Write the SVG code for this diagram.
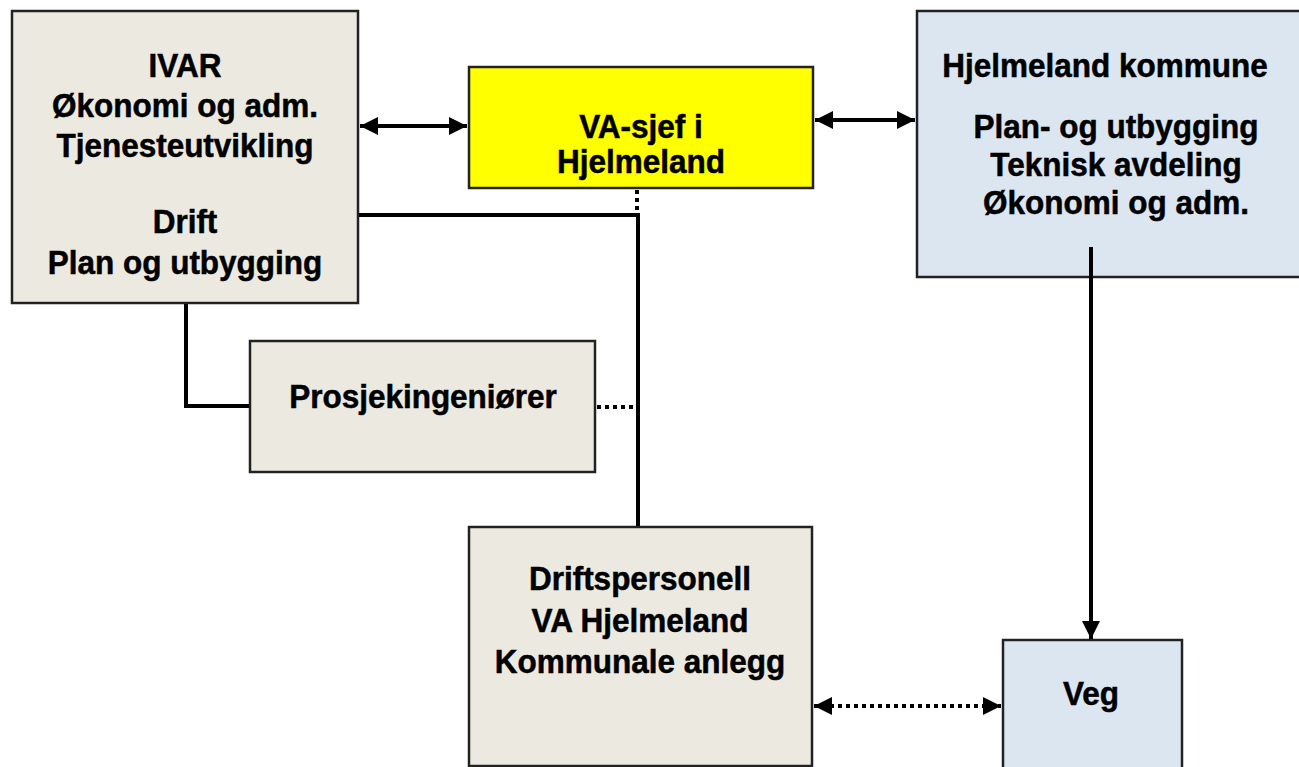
<svg xmlns="http://www.w3.org/2000/svg" width="1299" height="767" viewBox="0 0 1299 767">
<style>
.box{stroke:#222;stroke-width:2.5}
.beige{fill:#ECEAE0}
.blue{fill:#DCE6F1}
.yellow{fill:#FFFF00}
text{font-family:"Liberation Sans",Arial,sans-serif;font-weight:bold;font-size:31.5px;fill:#000;stroke:#000;stroke-width:0.5;text-anchor:middle}
.ln{stroke:#000;stroke-width:4;fill:none}
.dot{stroke:#000;stroke-width:4;fill:none;stroke-dasharray:4 4}
</style>
<defs>
<marker id="ah" viewBox="0 0 10 10" refX="10" refY="5" markerWidth="4.6" markerHeight="4.8" orient="auto-start-reverse" markerUnits="strokeWidth">
<path d="M0,0 L10,5 L0,10 z" fill="#000"/>
</marker>
</defs>
<rect width="1299" height="767" fill="#fff"/>
<g id="ivar">
<rect class="box beige" x="12" y="11" width="346" height="292"/>
<text transform="matrix(1,0,0,1.06,185,77)">IVAR</text>
<text transform="matrix(1,0,0,1.06,185,117)">Økonomi og adm.</text>
<text transform="matrix(1,0,0,1.06,185,157)">Tjenesteutvikling</text>
<text transform="matrix(1,0,0,1.06,185,233)">Drift</text>
<text transform="matrix(1,0,0,1.06,185,274)">Plan og utbygging</text>
</g>
<g id="vasjef">
<rect class="box yellow" x="469" y="67" width="344" height="121"/>
<text transform="matrix(1,0,0,1.06,641,138)">VA-sjef i</text>
<text transform="matrix(1,0,0,1.06,641,173)">Hjelmeland</text>
</g>
<g id="hjelmeland">
<rect class="box blue" x="917" y="11" width="400" height="266"/>
<text transform="matrix(1,0,0,1.06,1105,77)">Hjelmeland kommune</text>
<text transform="matrix(1,0,0,1.06,1116,138)">Plan- og utbygging</text>
<text transform="matrix(1,0,0,1.06,1116,176)">Teknisk avdeling</text>
<text transform="matrix(1,0,0,1.06,1116,214)">Økonomi og adm.</text>
</g>
<g id="prosjek">
<rect class="box beige" x="250" y="341" width="345" height="131"/>
<text transform="matrix(1,0,0,1.06,423,408)">Prosjekingeniører</text>
</g>
<g id="drift">
<rect class="box beige" x="469" y="527" width="343" height="239"/>
<text transform="matrix(1,0,0,1.06,640,590)">Driftspersonell</text>
<text transform="matrix(1,0,0,1.06,640,632)">VA Hjelmeland</text>
<text transform="matrix(1,0,0,1.06,640,673)">Kommunale anlegg</text>
</g>
<g id="veg">
<rect class="box blue" x="1003" y="640" width="179" height="140"/>
<text transform="matrix(1,0,0,1.06,1091,705)">Veg</text>
</g>
<g id="connectors">
<line class="ln" x1="360" y1="126" x2="467" y2="126" marker-start="url(#ah)" marker-end="url(#ah)"/>
<line class="ln" x1="815" y1="120" x2="915" y2="120" marker-start="url(#ah)" marker-end="url(#ah)"/>
<line class="dot" x1="637" y1="190" x2="637" y2="213"/>
<polyline class="ln" points="359,215 638,215 638,526"/>
<polyline class="ln" points="186,304 186,406 249,406"/>
<line class="dot" x1="597" y1="407" x2="636" y2="407"/>
<line class="ln" x1="1091" y1="247" x2="1091" y2="639" marker-end="url(#ah)"/>
<line class="dot" x1="814" y1="706" x2="1001" y2="706" marker-start="url(#ah)" marker-end="url(#ah)"/>
</g>
</svg>
